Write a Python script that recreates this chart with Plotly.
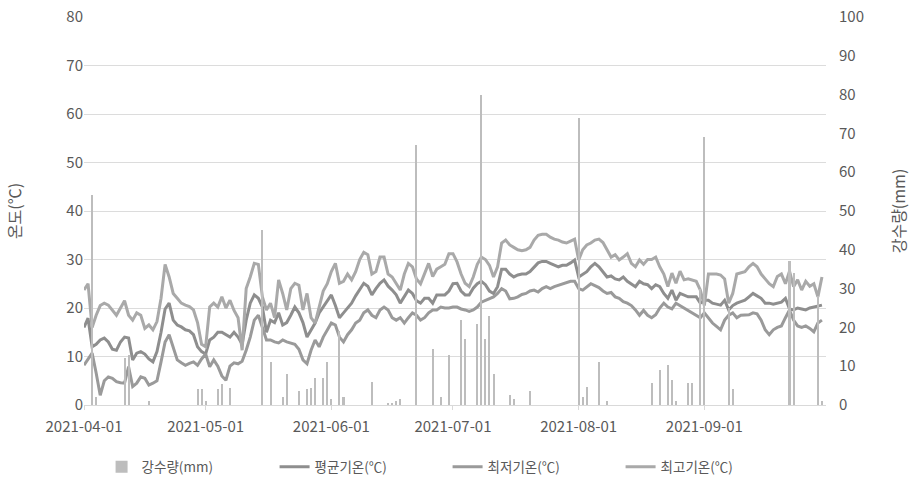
import pandas as pd
import plotly.graph_objects as go

# Daily observations, 2021-04-01 .. 2021-09-30, one list per month
tmax_apr = [23.7, 25.0, 16.0, 18.5, 20.5, 21.0, 20.6, 19.6, 18.5, 20.0,
            21.5, 18.5, 17.5, 19.0, 18.5, 15.8, 16.5, 15.5, 17.2, 22.0,
            29.0, 26.4, 23.0, 22.0, 21.0, 20.6, 20.3, 19.6, 17.0, 12.5]
tmax_may = [12.0, 20.2, 21.0, 20.2, 22.3, 20.0, 21.6, 19.5, 18.0, 11.3,
            24.0, 26.4, 29.2, 29.0, 22.3, 19.6, 21.0, 18.0, 25.8, 23.0,
            19.6, 24.0, 25.1, 24.7, 19.6, 23.0, 18.0, 16.9, 20.2, 23.5, 25.0]
tmax_jun = [27.5, 29.2, 25.1, 25.5, 27.0, 25.8, 27.5, 30.0, 31.5, 31.0,
            27.0, 27.5, 30.5, 30.5, 27.0, 26.4, 25.0, 23.7, 27.0, 29.2,
            28.5, 26.0, 25.0, 27.0, 29.2, 26.5, 28.0, 28.5, 29.0, 31.2]
tmax_jul = [31.2, 29.5, 27.0, 25.1, 24.4, 26.4, 29.0, 30.5, 30.0, 28.8,
            26.4, 28.5, 33.4, 34.0, 33.0, 32.5, 32.0, 31.8, 32.0, 32.5,
            34.0, 35.0, 35.2, 35.2, 34.6, 34.2, 34.0, 33.6, 33.4, 33.8, 34.2]
tmax_aug = [29.9, 32.0, 33.0, 33.4, 34.0, 34.2, 33.5, 32.0, 30.5, 31.0,
            29.9, 30.5, 31.2, 29.2, 28.5, 29.9, 29.0, 30.0, 30.0, 30.5,
            28.5, 27.0, 24.4, 27.2, 25.1, 27.6, 25.8, 26.0, 25.8, 25.5, 23.7]
tmax_sep = [20.5, 27.0, 27.0, 27.0, 26.8, 26.0, 21.0, 23.0, 27.0, 27.2,
            27.5, 28.5, 29.2, 28.5, 27.0, 26.0, 25.0, 24.4, 26.5, 27.0,
            25.0, 27.6, 24.4, 25.8, 23.7, 25.5, 24.5, 25.0, 22.3, 26.4]

tavg_apr = [16.0, 17.9, 12.0, 12.5, 13.4, 13.8, 13.0, 11.5, 11.3, 13.0,
            14.0, 13.8, 9.3, 10.7, 11.0, 10.5, 9.5, 8.9, 11.0, 15.0,
            19.8, 21.0, 17.5, 16.5, 16.1, 15.5, 15.3, 14.5, 12.0, 11.0]
tavg_may = [10.5, 13.4, 14.0, 15.0, 15.0, 14.5, 14.0, 15.0, 14.0, 12.5,
            17.5, 21.0, 22.7, 22.0, 20.2, 15.0, 17.5, 17.0, 19.0, 16.5,
            17.0, 18.5, 20.2, 19.0, 17.0, 14.0, 15.5, 16.9, 19.0, 20.2, 21.5]
tavg_jun = [22.7, 20.5, 18.0, 19.0, 20.0, 21.0, 22.5, 23.7, 25.1, 24.5,
            22.7, 24.0, 25.1, 25.8, 24.5, 23.7, 22.7, 21.0, 22.5, 23.7,
            23.0, 21.5, 21.0, 22.0, 22.0, 21.0, 22.7, 22.7, 22.7, 23.5]
tavg_jul = [25.0, 25.1, 23.5, 22.7, 22.7, 24.1, 25.0, 25.5, 24.8, 23.5,
            23.0, 24.4, 28.0, 28.0, 27.0, 26.4, 26.8, 27.0, 27.0, 27.5,
            28.5, 29.3, 29.6, 29.6, 29.2, 28.8, 28.5, 28.8, 28.8, 29.3, 29.9]
tavg_aug = [26.4, 27.0, 27.5, 28.5, 29.2, 28.5, 27.5, 26.4, 26.6, 26.0,
            25.8, 26.4, 25.5, 25.0, 24.4, 25.5, 25.0, 24.8, 24.0, 24.8,
            24.4, 23.0, 22.0, 23.7, 21.6, 23.0, 22.7, 22.3, 22.3, 22.3, 21.0]
tavg_sep = [21.6, 21.6, 21.0, 20.8, 20.6, 21.6, 19.6, 20.5, 21.0, 21.3,
            21.6, 22.3, 23.0, 22.5, 22.0, 21.0, 21.0, 20.8, 21.0, 21.2,
            22.0, 19.8, 19.6, 20.0, 19.8, 19.6, 20.0, 20.2, 20.4, 20.6]

tmin_apr = [8.2, 9.5, 10.7, 6.6, 2.0, 5.0, 5.8, 5.5, 4.8, 4.6,
            4.5, 7.9, 3.8, 4.5, 5.8, 5.5, 4.1, 4.5, 5.0, 8.9,
            13.0, 14.5, 12.0, 9.3, 8.7, 8.2, 8.6, 8.9, 8.2, 9.5]
tmin_may = [10.5, 7.9, 9.3, 8.0, 6.0, 5.1, 8.0, 8.7, 8.5, 9.0,
            11.3, 14.0, 17.5, 18.5, 16.0, 13.4, 13.4, 13.0, 12.8, 13.4,
            13.0, 12.8, 12.5, 11.5, 9.3, 8.5, 11.3, 13.4, 12.0, 14.0, 15.5]
tmin_jun = [16.9, 16.5, 14.0, 13.0, 14.5, 15.5, 16.9, 17.5, 19.0, 19.6,
            18.5, 18.0, 19.6, 20.2, 19.6, 18.0, 17.5, 18.0, 16.9, 18.0,
            19.0, 18.5, 17.5, 18.0, 19.0, 19.6, 19.6, 20.2, 20.0, 20.0]
tmin_jul = [20.2, 20.2, 19.8, 19.6, 19.3, 19.6, 20.2, 21.2, 21.6, 21.9,
            22.3, 23.0, 24.0, 23.5, 21.9, 22.0, 22.3, 22.8, 23.0, 23.5,
            23.7, 23.3, 24.0, 24.4, 24.0, 24.4, 24.7, 25.0, 25.3, 25.5, 25.5]
tmin_aug = [24.0, 23.7, 24.4, 25.0, 24.6, 24.2, 23.5, 23.0, 23.2, 22.3,
            22.0, 21.3, 21.0, 20.5, 19.6, 18.5, 19.5, 18.5, 18.0, 18.6,
            20.0, 21.0, 20.2, 19.8, 21.0, 20.5, 20.0, 19.6, 19.0, 18.6, 18.0]
tmin_sep = [19.0, 18.0, 16.9, 16.2, 15.5, 17.5, 18.5, 19.0, 18.0, 18.5,
            18.6, 18.6, 19.0, 18.8, 17.5, 15.5, 14.5, 15.5, 16.0, 16.3,
            18.0, 19.6, 17.5, 16.3, 16.0, 16.3, 15.8, 15.1, 16.9, 17.5]

rain_apr = [0, 0, 54, 2, 0, 0, 0, 0, 0, 0,
            12, 13, 0, 0, 0, 0, 1, 0, 0, 0,
            0, 0, 0, 0, 0, 0, 0, 0, 4, 4]
rain_may = [1, 0, 0, 4, 5.5, 0, 4.5, 0, 0, 0,
            0, 0, 0, 0, 45, 0, 11, 0, 0, 2,
            8, 0, 0, 3.5, 0, 4, 4.5, 7, 0, 7, 11]
rain_jun = [1.5, 0, 19, 2, 0, 0, 0, 0, 0, 0,
            6, 0, 0, 0, 0.5, 0.5, 1, 1.5, 0, 0,
            0, 67, 0, 0, 0, 14.5, 0, 2, 0, 13]
rain_jul = [0, 0, 22, 17, 0, 0, 21, 80, 17, 23,
            8, 0, 0, 0, 2.5, 1.5, 0, 0, 0, 3.5,
            0, 0, 0, 0, 0, 0, 0, 0, 0, 0, 0]
rain_aug = [74, 2, 4.7, 0, 0, 11, 0, 1, 0, 0,
            0, 0, 0, 0, 0, 0, 0, 0, 5.7, 0,
            9, 0, 10.3, 6.4, 1, 0, 0, 5.7, 5.7, 0, 30]
rain_sep = [69, 0, 0, 0, 0, 0, 25, 4, 0, 0,
            0, 0, 0, 0, 0, 0, 0, 0, 0, 0,
            0, 37, 34, 0, 0, 0, 0, 0, 28, 1]

month_ticks = ["2021-04-01", "2021-05-01", "2021-06-01",
               "2021-07-01", "2021-08-01", "2021-09-01"]

tmax = tmax_apr + tmax_may + tmax_jun + tmax_jul + tmax_aug + tmax_sep
tavg = tavg_apr + tavg_may + tavg_jun + tavg_jul + tavg_aug + tavg_sep
tmin = tmin_apr + tmin_may + tmin_jun + tmin_jul + tmin_aug + tmin_sep
rain = rain_apr + rain_may + rain_jun + rain_jul + rain_aug + rain_sep
dates = pd.date_range("2021-04-01", "2021-09-30", freq="D")

FONT = "Noto Sans CJK KR, Noto Sans, sans-serif"
TXT = "#595959"

fig = go.Figure()
fig.add_trace(go.Bar(
    x=dates, y=rain, name="강수량(mm)", yaxis="y2",
    marker=dict(color="#bdbdbd", line=dict(width=0)),
    width=0.5 * 86400000,
))
fig.add_trace(go.Scatter(
    x=dates, y=tavg, name="평균기온(℃)", mode="lines",
    line=dict(color="#8e8e8e", width=3),
))
fig.add_trace(go.Scatter(
    x=dates, y=tmin, name="최저기온(℃)", mode="lines",
    line=dict(color="#9a9a9a", width=3),
))
fig.add_trace(go.Scatter(
    x=dates, y=tmax, name="최고기온(℃)", mode="lines",
    line=dict(color="#a9a9a9", width=3),
))

fig.update_layout(
    width=916, height=484,
    margin=dict(l=84, r=90, t=17, b=79, autoexpand=False),
    paper_bgcolor="white", plot_bgcolor="white",
    font=dict(family=FONT, size=14, color=TXT),
    bargap=0,
    showlegend=True,
    legend=dict(
        orientation="h", x=0.49, xanchor="center", y=-0.16, yanchor="middle",
        font=dict(size=13.5, color=TXT),
        entrywidth=128, entrywidthmode="pixels",
        traceorder="normal",
    ),
    xaxis=dict(
        type="date",
        range=["2021-04-01", "2021-10-01"],
        tickvals=month_ticks,
        ticktext=month_ticks,
        showgrid=False,
        showline=True, linecolor="#d9d9d9", linewidth=1,
        ticks="outside", ticklen=4, tickcolor="#d9d9d9",
        ticklabelstandoff=4,
        tickfont=dict(size=15, color=TXT),
        zeroline=False,
    ),
    yaxis=dict(
        range=[0, 80], dtick=10,
        showgrid=True, gridcolor="#dcdcdc", gridwidth=1,
        zeroline=False, showline=False,
        tickfont=dict(size=15, color=TXT),
        title=dict(text="온도(℃)", font=dict(size=16, color=TXT), standoff=40),
    ),
    yaxis2=dict(
        range=[0, 100], dtick=10,
        overlaying="y", side="right",
        showgrid=False, zeroline=False, showline=False,
        ticklabelstandoff=12,
        tickfont=dict(size=15, color=TXT),
        title=dict(text="강수량(mm)", font=dict(size=16, color=TXT), standoff=30),
    ),
)

fig.write_html("out.html")
